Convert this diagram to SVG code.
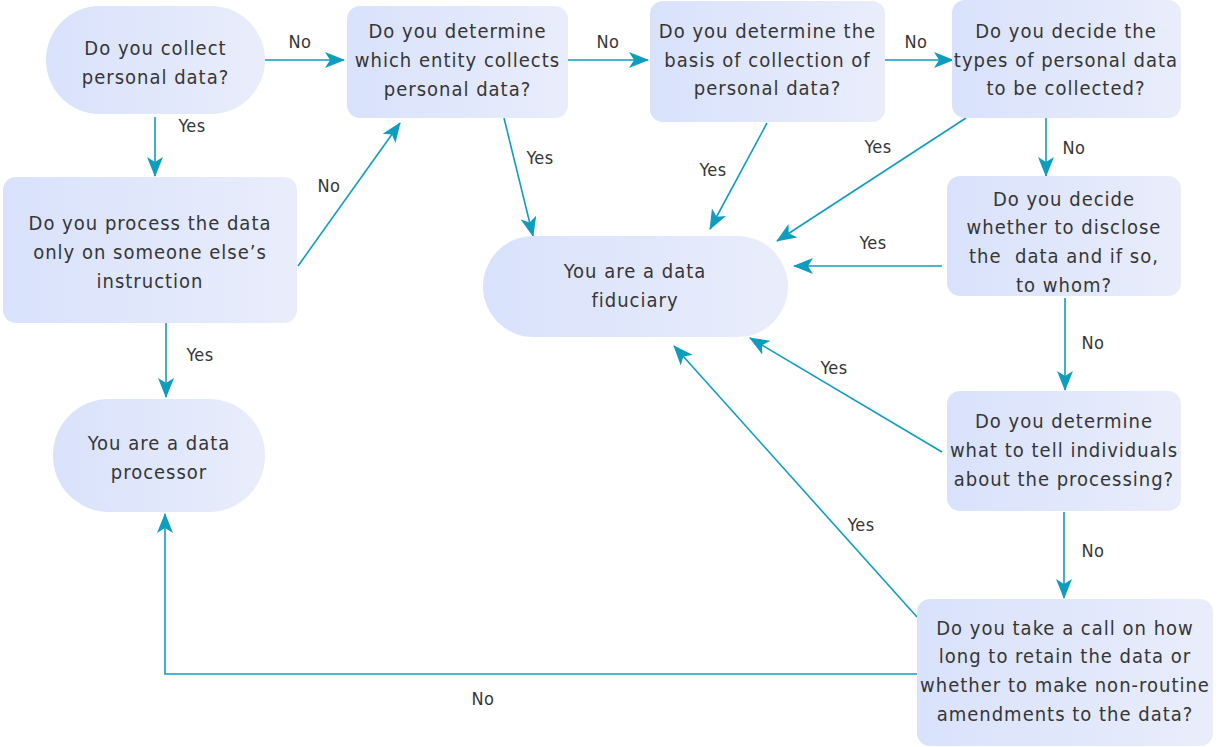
<svg xmlns="http://www.w3.org/2000/svg" width="1221" height="747" viewBox="0 0 1221 747">
  <defs>
    <linearGradient id="fill" x1="0" y1="0" x2="1" y2="0">
      <stop offset="0" stop-color="#d9e2fc"/>
      <stop offset="1" stop-color="#e9edfb"/>
    </linearGradient>
    <marker id="arrow" viewBox="0 0 20 16" refX="19" refY="8" markerWidth="20" markerHeight="16" markerUnits="userSpaceOnUse" orient="auto">
      <path d="M0,0 L20,8 L0,16 L5,8 Z" fill="#0e9dbf"/>
    </marker>
    <style>
      .node { fill: url(#fill); }
      .t { font-family: "DejaVu Sans Condensed", "DejaVu Sans", sans-serif; font-size: 20px; letter-spacing: 1px; fill: #363636; text-anchor: middle; }
      .lbl { font-family: "DejaVu Sans Condensed", "DejaVu Sans", sans-serif; font-size: 18px; letter-spacing: 0.4px; fill: #363636; text-anchor: middle; }
      .c { fill: none; stroke: #0e9dbf; stroke-width: 1.6; marker-end: url(#arrow); }
    </style>
  </defs>

  <g id="connectors">
    <line class="c" x1="265" y1="60" x2="344" y2="60"/>
    <line class="c" x1="568" y1="60" x2="648" y2="60"/>
    <line class="c" x1="885" y1="60" x2="953" y2="60"/>
    <line class="c" x1="155" y1="117" x2="155" y2="176"/>
    <line class="c" x1="298" y1="266" x2="400" y2="123"/>
    <line class="c" x1="504" y1="118" x2="533" y2="236"/>
    <line class="c" x1="767" y1="123" x2="710" y2="229"/>
    <line class="c" x1="966" y1="118" x2="777" y2="241"/>
    <line class="c" x1="1046" y1="118" x2="1046" y2="176"/>
    <line class="c" x1="942" y1="266" x2="794" y2="266"/>
    <line class="c" x1="1065" y1="298" x2="1065" y2="390"/>
    <line class="c" x1="942" y1="452" x2="750" y2="338"/>
    <line class="c" x1="1064" y1="512" x2="1064" y2="598"/>
    <line class="c" x1="917" y1="617" x2="674" y2="346"/>
    <polyline class="c" points="917,674 165,674 165,514"/>
    <line class="c" x1="166" y1="323" x2="166" y2="397"/>

    <text class="lbl" x="300" y="48">No</text>
    <text class="lbl" x="608" y="48">No</text>
    <text class="lbl" x="916" y="48">No</text>
    <text class="lbl" x="192" y="132">Yes</text>
    <text class="lbl" x="329" y="192">No</text>
    <text class="lbl" x="540" y="164">Yes</text>
    <text class="lbl" x="713" y="176">Yes</text>
    <text class="lbl" x="878" y="153">Yes</text>
    <text class="lbl" x="1074" y="154">No</text>
    <text class="lbl" x="873" y="249">Yes</text>
    <text class="lbl" x="1093" y="349">No</text>
    <text class="lbl" x="834" y="374">Yes</text>
    <text class="lbl" x="1093" y="557">No</text>
    <text class="lbl" x="861" y="531">Yes</text>
    <text class="lbl" x="483" y="705">No</text>
    <text class="lbl" x="200" y="361">Yes</text>
  </g>

  <g id="collect">
    <rect class="node" x="46" y="6" width="219" height="108" rx="54"/>
    <text class="t" x="155.5" y="55">Do you collect</text>
    <text class="t" x="155.5" y="84">personal data?</text>
  </g>

  <g id="entity">
    <rect class="node" x="347" y="6" width="221" height="112" rx="13"/>
    <text class="t" x="457.5" y="38">Do you determine</text>
    <text class="t" x="457.5" y="67">which entity collects</text>
    <text class="t" x="457.5" y="96">personal data?</text>
  </g>

  <g id="basis">
    <rect class="node" x="650" y="1" width="235" height="121" rx="13"/>
    <text class="t" x="767.5" y="38">Do you determine the</text>
    <text class="t" x="767.5" y="67">basis of collection of</text>
    <text class="t" x="767.5" y="95">personal data?</text>
  </g>

  <g id="types">
    <rect class="node" x="952" y="0" width="229" height="118" rx="13"/>
    <text class="t" x="1066" y="38">Do you decide the</text>
    <text class="t" x="1066" y="67">types of personal data</text>
    <text class="t" x="1066" y="95">to be collected?</text>
  </g>

  <g id="process">
    <rect class="node" x="3" y="177" width="294" height="146" rx="13"/>
    <text class="t" x="150" y="230">Do you process the data</text>
    <text class="t" x="150" y="259">only on someone else’s</text>
    <text class="t" x="150" y="288">instruction</text>
  </g>

  <g id="fiduciary">
    <rect class="node" x="483" y="236" width="305" height="101" rx="50.5"/>
    <text class="t" x="635" y="278">You are a data</text>
    <text class="t" x="635" y="307">fiduciary</text>
  </g>

  <g id="disclose">
    <rect class="node" x="947" y="176" width="234" height="120" rx="13"/>
    <text class="t" x="1064" y="206">Do you decide</text>
    <text class="t" x="1064" y="234">whether to disclose</text>
    <text class="t" x="1064" y="263" style="white-space: pre">the  data and if so,</text>
    <text class="t" x="1064" y="292">to whom?</text>
  </g>

  <g id="processor">
    <rect class="node" x="53" y="399" width="212" height="113" rx="56"/>
    <text class="t" x="159" y="450">You are a data</text>
    <text class="t" x="159" y="479">processor</text>
  </g>

  <g id="tell">
    <rect class="node" x="947" y="391" width="234" height="120" rx="13"/>
    <text class="t" x="1064" y="428">Do you determine</text>
    <text class="t" x="1064" y="457">what to tell individuals</text>
    <text class="t" x="1064" y="486">about the processing?</text>
  </g>

  <g id="retain">
    <rect class="node" x="917" y="599" width="296" height="147" rx="13"/>
    <text class="t" x="1065" y="635">Do you take a call on how</text>
    <text class="t" x="1065" y="663">long to retain the data or</text>
    <text class="t" x="1065" y="692">whether to make non-routine</text>
    <text class="t" x="1065" y="721">amendments to the data?</text>
  </g>
</svg>
